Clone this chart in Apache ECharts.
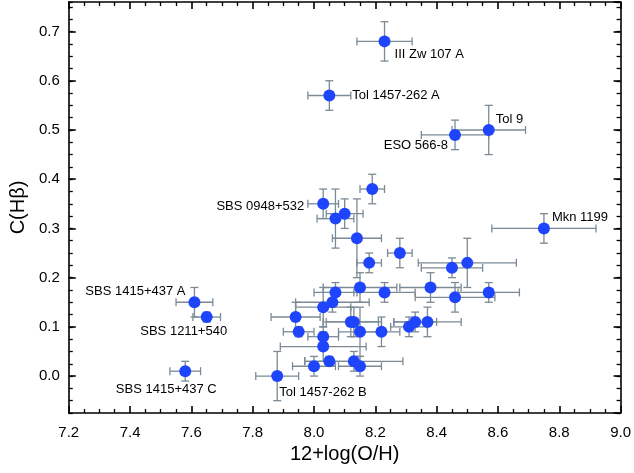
<!DOCTYPE html>
<html><head><meta charset="utf-8">
<script src="https://cdn.jsdelivr.net/npm/echarts@6/dist/echarts.min.js"></script>
<style>html,body{margin:0;padding:0;background:#fff}#c{width:634px;height:473px}</style>
</head><body><div id="c"></div>
<script>
// ---- data ----
const names = [
  'III Zw 107 A','Tol 1457-262 A','Tol 9','ESO 566-8','','SBS 0948+532','','','','Mkn 1199',
  '','','','','','','','','','',
  'SBS 1415+437 A','','','SBS 1211+540','','','','','','',
  '','','','','','','','','','Tol 1457-262 B','SBS 1415+437 C'
];
const ohAbund = [
  8.23, 8.05, 8.57, 8.46, 8.19, 8.03, 8.10, 8.07, 8.14, 8.75,
  8.28, 8.18, 8.45, 8.50, 8.15, 8.38, 8.07, 8.23, 8.46, 8.57,
  7.61, 8.06, 8.03, 7.65, 7.94, 8.12, 8.13, 8.31, 8.33, 8.37,
  7.95, 8.15, 8.22, 8.03, 8.03, 8.05, 8.00, 8.13, 8.15, 7.88, 7.58
];
const cHbeta = [
  0.68, 0.57, 0.50, 0.49, 0.38, 0.35, 0.33, 0.32, 0.28, 0.30,
  0.25, 0.23, 0.22, 0.23, 0.18, 0.18, 0.17, 0.17, 0.16, 0.17,
  0.15, 0.15, 0.14, 0.12, 0.12, 0.11, 0.11, 0.10, 0.11, 0.11,
  0.09, 0.09, 0.09, 0.08, 0.06, 0.03, 0.02, 0.03, 0.02, 0.00, 0.01
];
const ohErr = [
  0.09, 0.07, 0.12, 0.11, 0.04, 0.05, 0.06, 0.06, 0.08, 0.17,
  0.04, 0.04, 0.10, 0.16, 0.12, 0.10, 0.07, 0.10, 0.13, 0.10,
  0.06, 0.12, 0.09, 0.045, 0.08, 0.09, 0.09, 0.06, 0.07, 0.11,
  0.05, 0.07, 0.06, 0.05, 0.14, 0.08, 0.07, 0.16, 0.07, 0.07, 0.05
];
const cHbErr = [
  0.04, 0.03, 0.05, 0.03, 0.03, 0.03, 0.03, 0.06, 0.08, 0.03,
  0.03, 0.02, 0.02, 0.05, 0.03, 0.03, 0.02, 0.02, 0.03, 0.02,
  0.03, 0.02, 0.04, 0.01, 0.03, 0.03, 0.03, 0.02, 0.02, 0.03,
  0.01, 0.05, 0.03, 0.02, 0.03, 0.01, 0.02, 0.02, 0.02, 0.05, 0.02
];
const xTickLabels = ['7.2','7.4','7.6','7.8','8.0','8.2','8.4','8.6','8.8','9.0'];
const yTickLabels = ['0.0','0.1','0.2','0.3','0.4','0.5','0.6','0.7'];

// ---- label placement (style, not data) ----
const labelPlacement = {
  'III Zw 107 A':   {align:'left',   offset:[10, 13]},
  'Tol 1457-262 A': {align:'left',   offset:[23, 0]},
  'Tol 9':          {align:'left',   offset:[7, -11]},
  'ESO 566-8':      {align:'right',  offset:[-7, 11]},
  'Mkn 1199':       {align:'left',   offset:[8, -11]},
  'SBS 0948+532':   {align:'right',  offset:[-19, 3]},
  'SBS 1415+437 A': {align:'right',  offset:[-9, -11]},
  'SBS 1211+540':   {align:'center', offset:[-23, 14]},
  'SBS 1415+437 C': {align:'center', offset:[-19, 18]},
  'Tol 1457-262 B': {align:'left',   offset:[2, 16]}
};

const FONT = '"Liberation Sans", Arial, sans-serif';
const X_MIN = 7.2, X_MAX = 9.0, Y_MIN = -0.075, Y_MAX = 0.76;

const errData = ohAbund.map((x, i) => [x, cHbeta[i], ohErr[i], cHbErr[i]]);
const ptData = ohAbund.map((x, i) => {
  const item = {name: names[i], value: [x, cHbeta[i]]};
  const lp = labelPlacement[names[i]];
  if (lp) {
    item.label = {show: true, position: 'inside', align: lp.align, verticalAlign: 'middle',
      offset: lp.offset, formatter: '{b}', color: '#000', fontSize: 13, fontFamily: FONT};
  }
  return item;
});

const lineBlack = {color: '#000', width: 1.6};
function xAxisDef(pos, withLabels) {
  return {
    type: 'value', position: pos, min: X_MIN, max: X_MAX, interval: 0.2,
    axisLine: {show: true, onZero: false, lineStyle: lineBlack},
    axisTick: {show: true, inside: true, length: 7, lineStyle: lineBlack},
    minorTick: {show: true, splitNumber: 4, length: 4, lineStyle: {color: '#000', width: 1.3}},
    axisLabel: {show: withLabels, margin: 12, fontSize: 15, color: '#000', fontFamily: FONT,
      formatter: v => { const s = v.toFixed(1); return xTickLabels.includes(s) ? s : ''; }},
    splitLine: {show: false}, minorSplitLine: {show: false},
    name: withLabels ? '12+log(O/H)' : '', nameLocation: 'middle', nameGap: 30,
    nameTextStyle: {fontSize: 20, color: '#000', fontFamily: FONT}
  };
}
function yMajorDef(pos, withLabels) {
  return {
    type: 'value', position: pos, min: Y_MIN, max: Y_MAX, splitNumber: 8,
    axisLine: {show: true, onZero: false, lineStyle: lineBlack},
    axisTick: {show: true, inside: true, length: 7, lineStyle: lineBlack},
    axisLabel: {show: withLabels, margin: 9, fontSize: 15, color: '#000', fontFamily: FONT,
      showMinLabel: false, showMaxLabel: false,
      formatter: v => { const s = (Math.abs(v) < 1e-9 ? 0 : v).toFixed(1); return yTickLabels.includes(s) ? s : ''; }},
    splitLine: {show: false},
    name: withLabels ? 'C(Hβ)' : '', nameLocation: 'middle', nameGap: 38, nameRotate: 90,
    nameTextStyle: {fontSize: 20, color: '#000', fontFamily: FONT}
  };
}
function yMinorDef(pos) {
  return {
    type: 'value', position: pos, min: Y_MIN, max: Y_MAX, interval: 0.025,
    axisLine: {show: false, onZero: false},
    axisTick: {show: true, inside: true, length: 4, lineStyle: {color: '#000', width: 1.3}},
    axisLabel: {show: false}, splitLine: {show: false}
  };
}

const option = {
  animation: false,
  backgroundColor: '#fff',
  grid: {left: 64, right: 10, top: 2, bottom: 60, containLabel: false},
  xAxis: [xAxisDef('bottom', true), xAxisDef('top', false)],
  yAxis: [yMajorDef('left', true), yMajorDef('right', false), yMinorDef('left'), yMinorDef('right')],
  series: [
    {
      type: 'custom', xAxisIndex: 0, yAxisIndex: 0, z: 2,
      encode: {x: 0, y: 1},
      data: errData,
      renderItem: function (params, api) {
        const x = api.value(0), y = api.value(1), ex = api.value(2), ey = api.value(3);
        const c = api.coord([x, y]);
        const l = api.coord([x - ex, y]), r = api.coord([x + ex, y]);
        const t = api.coord([x, y + ey]), b = api.coord([x, y - ey]);
        const cap = 4;
        const st = {stroke: '#7b8a95', lineWidth: 1.3, fill: null};
        const ln = (x1, y1, x2, y2) => ({type: 'line', shape: {x1, y1, x2, y2}, style: st});
        return {type: 'group', children: [
          ln(l[0], c[1], r[0], c[1]),
          ln(l[0], c[1] - cap, l[0], c[1] + cap),
          ln(r[0], c[1] - cap, r[0], c[1] + cap),
          ln(c[0], t[1], c[0], b[1]),
          ln(c[0] - cap, t[1], c[0] + cap, t[1]),
          ln(c[0] - cap, b[1], c[0] + cap, b[1])
        ]};
      }
    },
    {
      type: 'scatter', xAxisIndex: 0, yAxisIndex: 0, z: 3,
      symbol: 'circle', symbolSize: 12,
      itemStyle: {color: '#1f45fc', opacity: 1},
      label: {show: false},
      emphasis: {disabled: true},
      data: ptData
    }
  ]
};

const chart = echarts.init(document.getElementById('c'), null, {renderer: 'canvas'});
chart.setOption(option);
</script>
</body></html>
